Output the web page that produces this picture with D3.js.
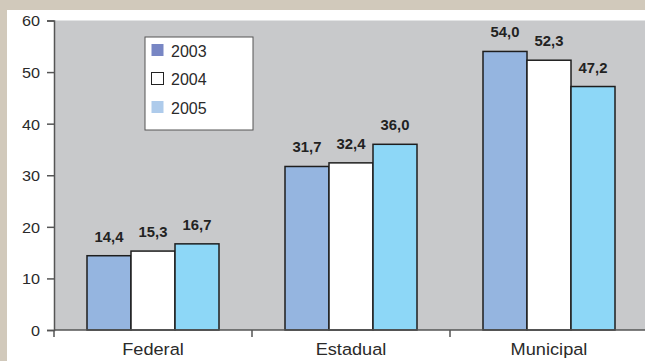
<!DOCTYPE html>
<html><head><meta charset="utf-8">
<script src="https://cdn.jsdelivr.net/npm/d3@7"></script>
<style>html,body{margin:0;padding:0;background:#fff;}svg{display:block;}</style>
</head><body>
<svg id="c" width="645" height="361"></svg>
<script>
const categories = ["Federal", "Estadual", "Municipal"];
const years = ["2003", "2004", "2005"];
const values2003 = [14.4, 31.7, 54.0];
const values2004 = [15.3, 32.4, 52.3];
const values2005 = [16.7, 36.0, 47.2];
const yTicks = [0, 10, 20, 30, 40, 50, 60];

const seriesVals = {"2003": values2003, "2004": values2004, "2005": values2005};
const barColor = {"2003": "#95b5e0", "2004": "#ffffff", "2005": "#8dd7f7"};
const swatchColor = {"2003": "#7886c4", "2004": "#ffffff", "2005": "#aecbeb"};
const fontFam = "'Liberation Sans', Arial, Helvetica, sans-serif";

const svg = d3.select("#c");
const W = 645, H = 361;
const mLeft = 54, mTop = 20.5, mBottom = 330;

svg.append("rect").attr("width", W).attr("height", H).attr("fill", "#fff");
svg.append("rect").attr("x", 0).attr("y", 0).attr("width", W).attr("height", 10).attr("fill", "#d1c9bb");
svg.append("rect").attr("x", 0).attr("y", 0).attr("width", 7).attr("height", H).attr("fill", "#d1c9bb");

const y = d3.scaleLinear().domain([0, 60]).range([mBottom, mTop]);
const x0 = d3.scaleBand().domain(categories).range([mLeft, mLeft + 3 * 198]).padding(0);
const x1 = d3.scaleBand().domain(years).range([0, x0.bandwidth()]).paddingInner(0).paddingOuter(0.75);

// plot background
svg.append("rect").attr("x", mLeft).attr("y", y(60)).attr("width", W - mLeft).attr("height", y(0) - y(60)).attr("fill", "#c8c9cb");

// bars
const g = svg.append("g");
categories.forEach((cat, ci) => {
  years.forEach(yr => {
    const v = seriesVals[yr][ci];
    g.append("rect")
      .attr("x", x0(cat) + x1(yr))
      .attr("y", y(v))
      .attr("width", x1.bandwidth())
      .attr("height", y(0) - y(v))
      .attr("fill", barColor[yr])
      .attr("stroke", "#1e1e1e")
      .attr("stroke-width", 1.5);
    const cx = x0(cat) + x1(yr) + x1.bandwidth() / 2;
    const ty = y(v) - 14;
    g.append("text")
      .attr("transform", `translate(${cx},${ty}) scale(1.06,1)`)
      .attr("text-anchor", "middle")
      .attr("font-family", fontFam)
      .attr("font-weight", "bold")
      .attr("font-size", 14)
      .attr("fill", "#222")
      .text(d3.format(".1f")(v).replace(".", ","));
  });
});

// y axis
const yAxis = svg.append("g").attr("transform", `translate(${mLeft},0)`)
  .call(d3.axisLeft(y).tickValues(yTicks).tickSize(7).tickPadding(5).tickFormat(d3.format("d")));
yAxis.select(".domain").attr("stroke", "#555").attr("stroke-width", 1.5);
yAxis.selectAll(".tick line").attr("stroke", "#555").attr("stroke-width", 1.5);
yAxis.selectAll(".tick text").attr("font-family", fontFam).attr("font-size", 15).attr("fill", "#2a2a2a")
  .attr("dy", "0.36em")
  .attr("transform", function(){ const xx = +d3.select(this).attr("x"); return `translate(${xx*0.08},0) scale(1.08,1)`; });

// x axis
const xAxis = svg.append("g").attr("transform", `translate(0,${mBottom})`)
  .call(d3.axisBottom(x0).tickSize(0).tickPadding(0));
xAxis.select(".domain").remove();
svg.append("line").attr("x1", mLeft).attr("x2", W).attr("y1", mBottom).attr("y2", mBottom)
  .attr("stroke", "#555").attr("stroke-width", 1.5);
xAxis.selectAll(".tick line").remove();
const bounds = categories.map(c => x0(c));
svg.selectAll(".xb").data(bounds).enter().append("line")
  .attr("x1", d => d).attr("x2", d => d).attr("y1", mBottom).attr("y2", mBottom + 7)
  .attr("stroke", "#555").attr("stroke-width", 1.5);
xAxis.selectAll(".tick text")
  .attr("font-family", fontFam).attr("font-size", 17).attr("fill", "#2a2a2a")
  .attr("dy", null).attr("y", 0)
  .attr("transform", "translate(0,25) scale(1.07,1)");

// legend
const lg = svg.append("g").attr("transform", "translate(145,37)");
lg.append("rect").attr("x", 0).attr("y", 0).attr("width", 108).attr("height", 93)
  .attr("fill", "#fff").attr("stroke", "#555").attr("stroke-width", 1);
years.forEach((yr, i) => {
  const ry = 7 + i * 28.5;
  lg.append("rect").attr("x", 6.5).attr("y", ry).attr("width", 12).attr("height", 12)
    .attr("fill", swatchColor[yr])
    .attr("stroke", yr === "2004" ? "#222" : "none").attr("stroke-width", 1);
  lg.append("text").attr("x", 26).attr("y", ry + 12.5)
    .attr("font-family", fontFam).attr("font-size", 16).attr("fill", "#2a2a2a").text(yr);
});
</script>
</body></html>
